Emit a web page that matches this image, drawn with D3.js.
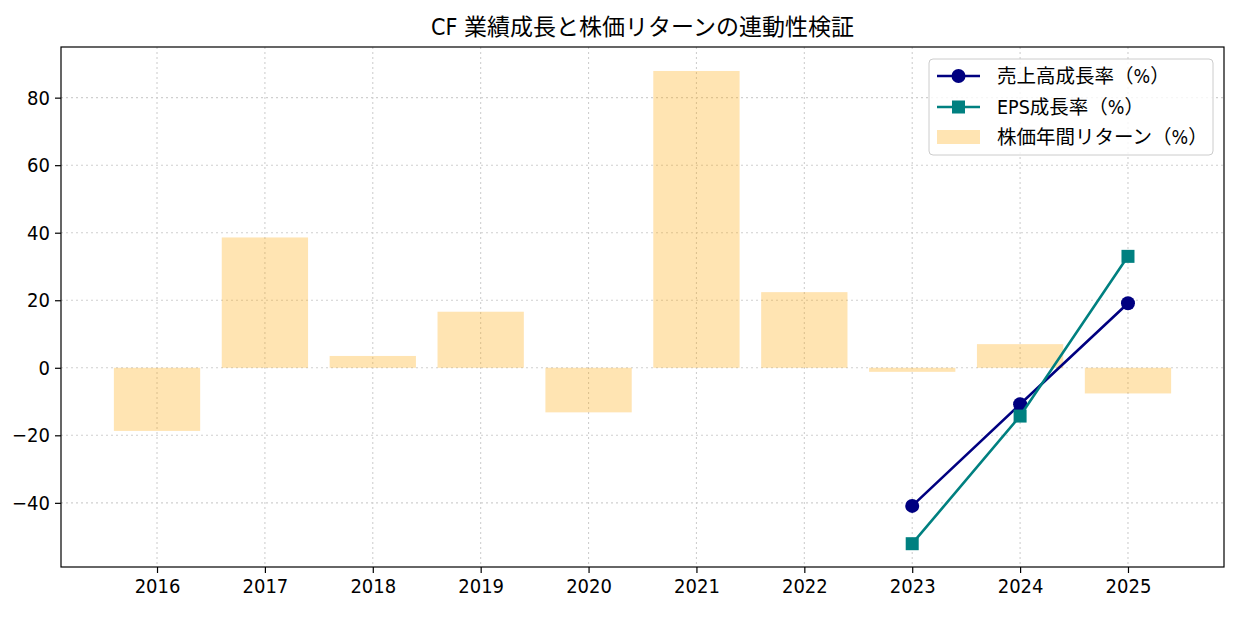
<!DOCTYPE html>
<html>
<head>
<meta charset="utf-8">
<script src="https://cdn.jsdelivr.net/npm/d3@7"></script>
<style>
  body { margin: 0; background: #fff; }
  svg text { font-family: "DejaVu Sans", "Noto Sans CJK JP", sans-serif; font-stretch: condensed; fill: #000; }
</style>
</head>
<body>
<div id="chart"></div>
<script>
// DATA ___________________________________________________________
const YEARS = ['2016', '2017', '2018', '2019', '2020', '2021', '2022', '2023', '2024', '2025'];
const STOCK_RETURN = [-18.7, 38.6, 3.5, 16.6, -13.2, 87.9, 22.4, -1.2, 7.0, -7.6];
const SALES_YEARS = ['2023', '2024', '2025'];
const SALES_GROWTH = [-40.9, -10.8, 19.1];
const EPS_GROWTH = [-52.1, -14.3, 33.0];
const Y_TICKS = [-40, -20, 0, 20, 40, 60, 80];
const TITLE = 'CF 業績成長と株価リターンの連動性検証';
const LEGEND_LABELS = ['売上高成長率（%）', 'EPS成長率（%）', '株価年間リターン（%）'];
//________________________________________________________________________________________

const W = 1238, H = 617;
const PLOT = {left: 61, right: 1224, top: 47, bottom: 567};

const svg = d3.select('#chart').append('svg')
    .attr('width', W)
    .attr('height', H);

// Scales: categorical positions as indices, like matplotlib
const x = d3.scaleLinear()
    .domain([-0.89, YEARS.length - 1 + 0.89])
    .range([PLOT.left, PLOT.right]);
const xi = function(year) { return x(YEARS.indexOf(year)); };

const y = d3.scaleLinear()
    .domain([-59.0, 95.0])
    .range([PLOT.bottom, PLOT.top]);

// Grid (dotted)
const grid = svg.append('g');
grid.selectAll('.gx')
    .data(YEARS)
    .enter()
    .append('line')
    .attr('x1', function(d) { return xi(d); })
    .attr('x2', function(d) { return xi(d); })
    .attr('y1', PLOT.top)
    .attr('y2', PLOT.bottom)
    .attr('stroke', '#cfcfcf')
    .attr('stroke-width', 1.1)
    .attr('stroke-dasharray', '2,3');
grid.selectAll('.gy')
    .data(Y_TICKS)
    .enter()
    .append('line')
    .attr('x1', PLOT.left)
    .attr('x2', PLOT.right)
    .attr('y1', function(d) { return y(d); })
    .attr('y2', function(d) { return y(d); })
    .attr('stroke', '#cfcfcf')
    .attr('stroke-width', 1.1)
    .attr('stroke-dasharray', '2,3');

// Bars (stock return)
const BAR_W = x(0.8) - x(0);
svg.selectAll('.bar')
    .data(YEARS)
    .enter()
    .append('rect')
    .attr('x', function(d) { return xi(d) - BAR_W / 2; })
    .attr('width', BAR_W)
    .attr('y', function(d, i) { return y(Math.max(0, STOCK_RETURN[i])); })
    .attr('height', function(d, i) { return Math.abs(y(STOCK_RETURN[i]) - y(0)); })
    .attr('fill', 'orange')
    .attr('fill-opacity', 0.3);

// Lines
const line = d3.line()
    .x(function(d) { return xi(d[0]); })
    .y(function(d) { return y(d[1]); });

const salesPts = SALES_YEARS.map(function(d, i) { return [d, SALES_GROWTH[i]]; });
const epsPts = SALES_YEARS.map(function(d, i) { return [d, EPS_GROWTH[i]]; });

svg.append('path')
    .datum(salesPts)
    .attr('d', line)
    .attr('fill', 'none')
    .attr('stroke', 'navy')
    .attr('stroke-width', 2.6);
svg.selectAll('.sm')
    .data(salesPts)
    .enter()
    .append('circle')
    .attr('cx', function(d) { return xi(d[0]); })
    .attr('cy', function(d) { return y(d[1]); })
    .attr('r', 7)
    .attr('fill', 'navy');

svg.append('path')
    .datum(epsPts)
    .attr('d', line)
    .attr('fill', 'none')
    .attr('stroke', 'teal')
    .attr('stroke-width', 2.6);
svg.selectAll('.em')
    .data(epsPts)
    .enter()
    .append('rect')
    .attr('x', function(d) { return xi(d[0]) - 6.5; })
    .attr('y', function(d) { return y(d[1]) - 6.5; })
    .attr('width', 13)
    .attr('height', 13)
    .attr('fill', 'teal');

// Axes
const xAxis = svg.append('g')
    .attr('transform', `translate(0,${PLOT.bottom})`)
    .call(d3.axisBottom(x).tickValues(d3.range(YEARS.length)).tickFormat(function(i) { return YEARS[i]; }).tickSizeOuter(0).tickSize(6).tickPadding(6));
const yAxis = svg.append('g')
    .attr('transform', `translate(${PLOT.left},0)`)
    .call(d3.axisLeft(y).tickValues(Y_TICKS).tickFormat(function(d) { return d < 0 ? '\u2212' + Math.abs(d) : d; }).tickSizeOuter(0).tickSize(6).tickPadding(5));

[xAxis, yAxis].forEach(function(ax) {
    ax.select('.domain').remove();
    ax.selectAll('.tick line').attr('stroke', '#000').attr('stroke-width', 1.2);
    ax.selectAll('text').attr('font-size', '20px').attr('fill', '#000')
        .style('font-family', '"DejaVu Sans", "Noto Sans CJK JP", sans-serif')
        .style('font-stretch', 'condensed');
});
xAxis.selectAll('text').attr('dy', '0.71em');

// Frame
svg.append('rect')
    .attr('x', PLOT.left)
    .attr('y', PLOT.top)
    .attr('width', PLOT.right - PLOT.left)
    .attr('height', PLOT.bottom - PLOT.top)
    .attr('fill', 'none')
    .attr('stroke', '#000')
    .attr('stroke-width', 1.2);

// Title
svg.append('text')
    .attr('x', (PLOT.left + PLOT.right) / 2)
    .attr('y', 35)
    .attr('text-anchor', 'middle')
    .attr('font-size', '23px')
    .text(TITLE);

// Legend
const lg = svg.append('g');
lg.append('rect')
    .attr('x', 929)
    .attr('y', 59)
    .attr('width', 284)
    .attr('height', 96)
    .attr('rx', 4)
    .attr('fill', '#fff')
    .attr('fill-opacity', 0.8)
    .attr('stroke', '#cccccc')
    .attr('stroke-width', 1);

const ROW_Y = [76, 107, 137];
lg.append('line').attr('x1', 937).attr('x2', 980).attr('y1', ROW_Y[0]).attr('y2', ROW_Y[0])
    .attr('stroke', 'navy').attr('stroke-width', 2.6);
lg.append('circle').attr('cx', 958.5).attr('cy', ROW_Y[0]).attr('r', 7).attr('fill', 'navy');
lg.append('line').attr('x1', 937).attr('x2', 980).attr('y1', ROW_Y[1]).attr('y2', ROW_Y[1])
    .attr('stroke', 'teal').attr('stroke-width', 2.6);
lg.append('rect').attr('x', 952).attr('y', ROW_Y[1] - 6.5).attr('width', 13).attr('height', 13).attr('fill', 'teal');
lg.append('rect').attr('x', 937).attr('y', ROW_Y[2] - 7).attr('width', 43).attr('height', 14)
    .attr('fill', 'orange').attr('fill-opacity', 0.3);

lg.selectAll('.lt')
    .data(LEGEND_LABELS)
    .enter()
    .append('text')
    .attr('x', 997)
    .attr('y', function(d, i) { return ROW_Y[i]; })
    .attr('dy', '0.36em')
    .attr('font-size', '19.5px')
    .text(function(d) { return d; });
</script>
</body>
</html>
